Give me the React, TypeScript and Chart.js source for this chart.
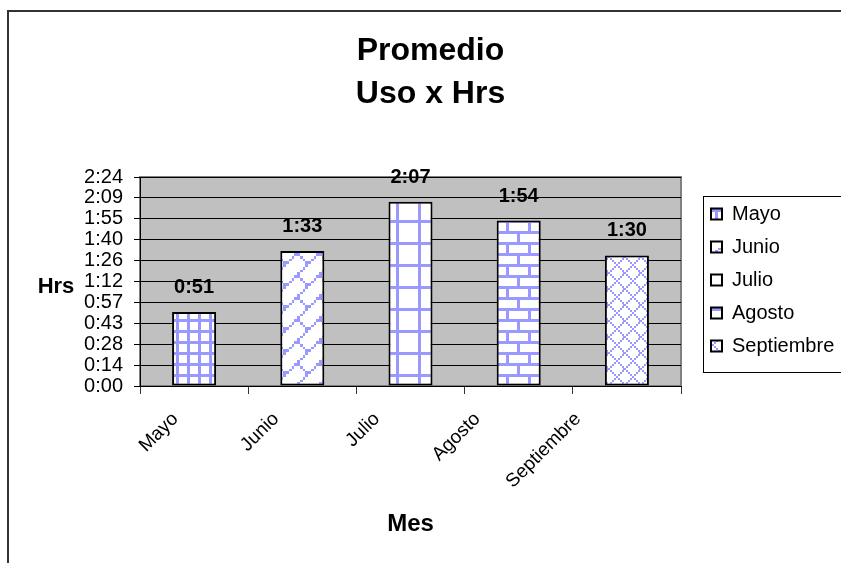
import React, { useEffect, useRef } from 'react';
import { Chart, registerables } from 'chart.js';

Chart.register(...registerables);

// ---- data ----
const categories = ['Mayo', 'Junio', 'Julio', 'Agosto', 'Septiembre'];
const usageMinutes = [51, 93, 127, 114, 90];
const yTickValues = [0, 14.4, 28.8, 43.2, 57.6, 72, 86.4, 100.8, 115.2, 129.6, 144];
const yTickLabels = ['0:00', '0:14', '0:28', '0:43', '0:57', '1:12', '1:26', '1:40', '1:55', '2:09', '2:24'];
const titleLines = ['Promedio', 'Uso x Hrs'];
const yAxisTitle = 'Hrs';
const xAxisTitle = 'Mes';

const valueLabels = usageMinutes.map(
  (m) => `${Math.floor(m / 60)}:${String(m % 60).padStart(2, '0')}`
);

// 8x8 fill patterns (Excel style): small grid, diagonal brick, large grid, horizontal brick
const patternRows: string[][] = [
  ['XXXXXXXX', 'X...X...', 'X...X...', 'X...X...', 'XXXXXXXX', 'X...X...', 'X...X...', 'X...X...'],
  ['.......X', '......X.', '.....X..', '....X...', '...XX...', '..X..X..', '.X....X.', 'X......X'],
  ['XXXXXXXX', 'X.......', 'X.......', 'X.......', 'X.......', 'X.......', 'X.......', 'X.......'],
  ['XXXXXXXX', 'X.......', 'X.......', 'X.......', 'XXXXXXXX', '....X...', '....X...', '....X...'],
];

const FONT = "'Liberation Sans', Arial, Helvetica, sans-serif";
const PAT_COLOR = '#9999FF';
const TILE = 22;
const CELL = TILE / 8;

function makeBitPattern(ctx: CanvasRenderingContext2D, rows: string[]): CanvasPattern | string {
  const c = document.createElement('canvas');
  c.width = TILE;
  c.height = TILE;
  const g = c.getContext('2d');
  if (!g) return '#ffffff';
  g.fillStyle = '#ffffff';
  g.fillRect(0, 0, TILE, TILE);
  g.fillStyle = PAT_COLOR;
  rows.forEach((row, y) => {
    for (let x = 0; x < 8; x++) {
      if (row[x] === 'X') {
        const x0 = Math.round(x * CELL);
        const x1 = Math.round((x + 1) * CELL);
        const y0 = Math.round(y * CELL);
        const y1 = Math.round((y + 1) * CELL);
        g.fillRect(x0, y0, x1 - x0, y1 - y0);
      }
    }
  });
  return ctx.createPattern(c, 'repeat') || '#ffffff';
}

// dotted diamond lattice
function makeDiamondPattern(ctx: CanvasRenderingContext2D): CanvasPattern | string {
  const T = 16;
  const c = document.createElement('canvas');
  c.width = T;
  c.height = T;
  const g = c.getContext('2d');
  if (!g) return '#ffffff';
  g.fillStyle = '#ffffff';
  g.fillRect(0, 0, T, T);
  g.fillStyle = PAT_COLOR;
  for (let k = 0; k < 8; k++) {
    const p = k * 2;
    g.fillRect(p, p, 2, 2);
    g.fillRect((T - p) % T, p, 2, 2);
    if (p === 0) g.fillRect(T - 1, 0, 1, 2);
  }
  return ctx.createPattern(c, 'repeat') || '#ffffff';
}

const decorPlugin = {
  id: 'decor',
  afterLayout(chart: any) {
    const t = chart.titleBlock;
    if (t) {
      const shift = 430.5 - (t.left + t.right) / 2;
      t.left += shift;
      t.right += shift;
    }
    const lg = chart.legend;
    if (lg) {
      lg.left = 698;
      lg.right = 841;
      lg.top = 191;
      lg.bottom = 563;
      lg.width = 143;
      lg.height = 372;
    }
  },
  beforeDraw(chart: any) {
    const { ctx, chartArea: a } = chart;
    ctx.save();
    ctx.fillStyle = '#C0C0C0';
    ctx.fillRect(a.left, a.top, a.right - a.left, a.bottom - a.top);
    ctx.strokeStyle = '#808080';
    ctx.lineWidth = 2;
    ctx.strokeRect(a.left, a.top, a.right - a.left, a.bottom - a.top);
    ctx.restore();
  },
  afterDatasetsDraw(chart: any) {
    const { ctx } = chart;
    const meta = chart.getDatasetMeta(0);
    ctx.save();
    ctx.font = `bold 20px ${FONT}`;
    ctx.fillStyle = '#000';
    ctx.textAlign = 'center';
    ctx.textBaseline = 'alphabetic';
    meta.data.forEach((el: any, i: number) => {
      ctx.fillText(valueLabels[i], el.x, el.y - 19);
    });
    ctx.restore();
  },
  afterDraw(chart: any) {
    const { ctx } = chart;
    ctx.save();
    // y axis title (horizontal)
    ctx.font = `bold 22px ${FONT}`;
    ctx.fillStyle = '#000';
    ctx.textAlign = 'center';
    ctx.textBaseline = 'alphabetic';
    ctx.fillText(yAxisTitle, 56, 293);
    // legend frame
    ctx.strokeStyle = '#000';
    ctx.lineWidth = 1;
    ctx.strokeRect(703.5, 196.5, 200, 176);
    // outer chart frame
    ctx.strokeStyle = '#333';
    ctx.lineWidth = 2;
    ctx.beginPath();
    ctx.moveTo(8, 700);
    ctx.lineTo(8, 11);
    ctx.lineTo(1000, 11);
    ctx.stroke();
    ctx.restore();
  },
};

export default function App() {
  const ref = useRef<HTMLCanvasElement>(null);

  useEffect(() => {
    document.body.style.margin = '0';
    document.body.style.overflow = 'hidden';
    const canvas = ref.current;
    if (!canvas) return;
    const ctx = canvas.getContext('2d');
    if (!ctx) return;
    Chart.defaults.font.family = FONT;
    Chart.defaults.color = '#000';
    const patterns = [...patternRows.map((r) => makeBitPattern(ctx, r)), makeDiamondPattern(ctx)];

    const chart = new Chart(canvas, {
      type: 'bar',
      data: {
        labels: categories,
        datasets: [
          {
            label: 'Uso',
            data: usageMinutes,
            backgroundColor: patterns as any,
            borderColor: '#000',
            borderWidth: 2,
            borderSkipped: false,
            barPercentage: 0.407,
            categoryPercentage: 1,
            xAxisID: 'x',
            yAxisID: 'y',
          },
        ],
      },
      options: {
        responsive: false,
        animation: false,
        devicePixelRatio: 1,
        layout: { padding: { left: 0, right: 160, top: 0, bottom: 0 } },
        plugins: {
          tooltip: { enabled: false },
          title: {
            display: true,
            text: titleLines,
            color: '#000',
            font: { family: FONT, size: 32, weight: 'bold', lineHeight: 43 / 32 },
            padding: { top: 30, bottom: 61 },
          },
          legend: {
            display: true,
            position: 'chartArea' as any,
            align: 'start',
            labels: {
              boxWidth: 11,
              boxHeight: 11,
              padding: 13,
              color: '#000',
              font: { family: FONT, size: 20 },
              generateLabels: () =>
                categories.map((c, i) => ({
                  text: c,
                  fillStyle: patterns[i] as any,
                  strokeStyle: '#000',
                  lineWidth: 2,
                  hidden: false,
                  index: i,
                  datasetIndex: 0,
                })),
            },
          },
        },
        scales: {
          x: {
            type: 'category',
            position: 'bottom',
            weight: 0,
            offset: true,
            grid: {
              display: true,
              drawOnChartArea: false,
              drawTicks: true,
              tickLength: 8,
              color: '#333',
              offset: true,
            },
            border: { display: true, color: '#000', width: 1 },
            ticks: { display: false },
            afterFit: (s: any) => {
              s.height = 8;
            },
          },
          xl: {
            type: 'linear',
            axis: 'x',
            position: 'bottom',
            weight: 1,
            offset: false,
            bounds: 'data',
            min: -0.3505,
            max: 5.0219,
            grid: { display: false, drawTicks: false, offset: false },
            border: { display: false },
            ticks: {
              autoSkip: false,
              minRotation: 45,
              maxRotation: 45,
              padding: 14,
              color: '#000',
              font: { family: FONT, size: 19 },
              callback: (v: any) => categories[v as number] ?? '',
            },
            title: {
              display: true,
              text: xAxisTitle,
              color: '#000',
              font: { family: FONT, size: 24, weight: 'bold' },
              padding: { top: 0, bottom: 24 },
            },
            afterBuildTicks: (axis: any) => {
              axis.ticks = categories.map((_, i) => ({ value: i }));
            },
            afterFit: (s: any) => {
              s.height = 169;
            },
          } as any,
          y: {
            type: 'linear',
            position: 'left',
            min: 0,
            max: 144,
            bounds: 'data',
            grid: { color: '#000', lineWidth: 1, drawTicks: true, tickLength: 6 },
            border: { display: true, color: '#000', width: 1 },
            ticks: {
              autoSkip: false,
              padding: 11,
              color: '#000',
              font: { family: FONT, size: 20 },
              callback: (_v: any, i: number) => yTickLabels[i] ?? '',
            },
            afterBuildTicks: (axis: any) => {
              axis.ticks = yTickValues.map((v) => ({ value: v }));
            },
            afterFit: (s: any) => {
              s.width = 140;
            },
          },
        },
      },
      plugins: [decorPlugin],
    });

    return () => chart.destroy();
  }, []);

  return (
    <div style={{ width: 841, height: 563 }}>
      <canvas ref={ref} width={841} height={563} style={{ display: 'block' }} />
    </div>
  );
}
